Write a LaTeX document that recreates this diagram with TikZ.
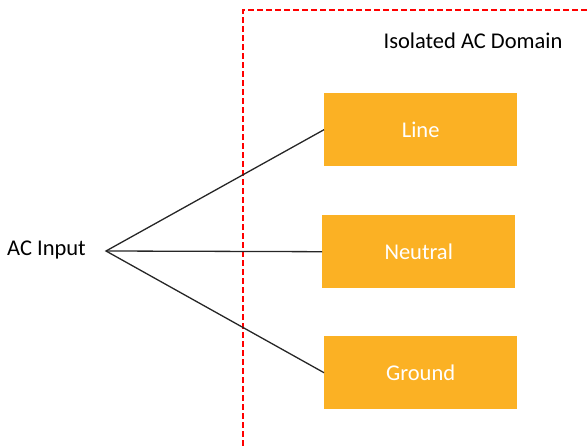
\documentclass[tikz,border=0pt]{standalone}
\usepackage{fontspec}
\setmainfont{Carlito}
\definecolor{boxorange}{RGB}{251,177,36}
\definecolor{domred}{RGB}{255,0,0}
\begin{document}
\begin{tikzpicture}[x=1pt,y=-1pt,
  termbox/.style={fill=boxorange,draw=none,minimum width=193pt,minimum height=73pt,inner sep=0pt,text=white,font=\fontsize{22.5}{27}\selectfont},
  lbl/.style={font=\fontsize{22.5}{27}\selectfont,inner sep=0pt},
  wire/.style={draw=black!85,line width=1.3pt},
  border/.style={draw=domred,line width=2.8pt,dash pattern=on 6pt off 3pt}]
\useasboundingbox (0,0) rectangle (587,446);
\draw[border] (243,446) -- (243,10) -- (587,10);
\node[lbl] (dom) at (473,41) {Isolated AC Domain};
\node[termbox,anchor=north west] (line) at (324,93) {Line};
\node[termbox,anchor=north west] (neutral) at (322,215) {Neutral};
\node[termbox,anchor=north west] (ground) at (324,336) {Ground};
\node[lbl,anchor=east] (acin) at (86,250) {AC Input};
\coordinate (src) at (106,251);
\draw[wire] (line.west) -- (src) -- (ground.west);
\draw[wire] (src) -- (neutral.west);
\end{tikzpicture}
\end{document}
